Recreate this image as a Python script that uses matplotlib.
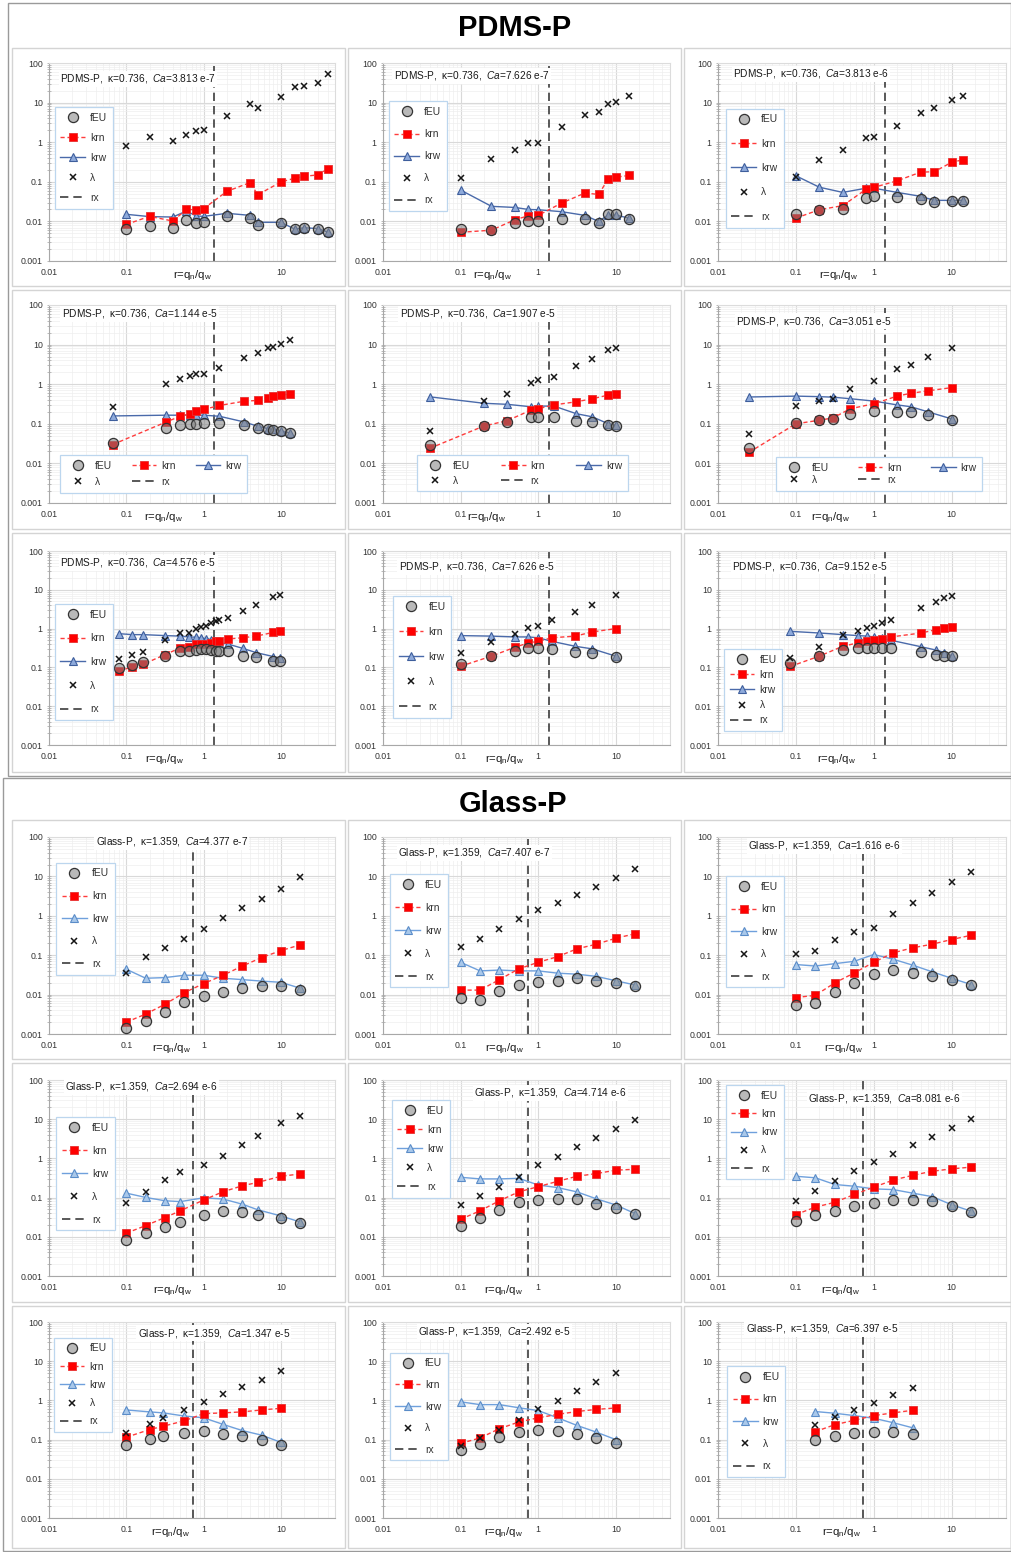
import matplotlib
matplotlib.use('Agg')
import matplotlib.pyplot as plt
from matplotlib.patches import Rectangle
from matplotlib.ticker import FixedLocator, FixedFormatter, LogLocator, NullFormatter
import numpy as np

plt.rcParams['font.family'] = ['Liberation Sans', 'DejaVu Sans']
plt.rcParams['mathtext.fontset'] = 'custom'
plt.rcParams['mathtext.rm'] = 'Liberation Sans'
plt.rcParams['mathtext.it'] = 'Liberation Sans:italic'
plt.rcParams['mathtext.bf'] = 'Liberation Sans:bold'

# ---------------- data ----------------
x_ticks = [0.01, 0.1, 1, 10]
x_tick_labels = ['0.01', '0.1', '1', '10']
y_ticks = [0.001, 0.01, 0.1, 1, 10, 100]
y_tick_labels = ['0.001', '0.01', '0.1', '1', '10', '100']

pdms_kappa = '0.736'
glass_kappa = '1.359'
pdms_rx = 1.38
glass_rx = 0.735
pdms_ca = ['3.813 e-7', '7.626 e-7', '3.813 e-6', '1.144 e-5', '1.907 e-5',
           '3.051 e-5', '4.576 e-5', '7.626 e-5', '9.152 e-5']
glass_ca = ['4.377 e-7', '7.407 e-7', '1.616 e-6', '2.694 e-6', '4.714 e-6',
            '8.081 e-6', '1.347 e-5', '2.492 e-5', '6.397 e-5']

# PDMS-P panels
p01_r = [0.1, 0.2, 0.4, 0.6, 0.8, 1, 2, 4, 5, 10, 15, 20, 30, 40]
p01_feu = [0.0063, 0.0075, 0.0069, 0.0108, 0.0093, 0.0097, 0.014, 0.0124, 0.0081, 0.0093, 0.0064, 0.0069, 0.0066, 0.0053]
p01_krn = [0.0084, 0.0134, 0.0102, 0.0202, 0.0195, 0.021, 0.0575, 0.0955, 0.047, 0.099, 0.123, 0.138, 0.149, 0.211]
p01_krw = [0.0151, 0.0132, 0.0129, 0.0183, 0.0137, 0.0134, 0.016, 0.0142, 0.0095, 0.0095, 0.0064, 0.0069, 0.0066, 0.0054]
p01_lam = [0.78, 1.39, 1.1, 1.53, 1.9, 2.05, 4.6, 9.1, 7.2, 13.7, 25, 26.6, 30.5, 52]

p02_r = [0.1, 0.25, 0.5, 0.75, 1, 2, 4, 6, 8, 10, 15]
p02_feu = [0.0063, 0.006, 0.0091, 0.0101, 0.0101, 0.0115, 0.0118, 0.0091, 0.0155, 0.0155, 0.0118]
p02_krn = [0.0053, 0.006, 0.011, 0.0139, 0.0142, 0.029, 0.052, 0.048, 0.117, 0.131, 0.145]
p02_krw = [0.062, 0.024, 0.0225, 0.02, 0.0197, 0.0176, 0.0142, 0.0100, 0.0145, 0.0145, 0.012]
p02_lam = [0.128, 0.37, 0.64, 0.94, 0.98, 2.4, 4.8, 5.7, 9.0, 10.2, 14.7]

p03_r = [0.1, 0.2, 0.4, 0.8, 1, 2, 4, 6, 10, 14]
p03_feu = [0.0153, 0.0197, 0.0205, 0.04, 0.043, 0.041, 0.037, 0.031, 0.033, 0.033]
p03_krn = [0.0121, 0.0197, 0.025, 0.065, 0.072, 0.106, 0.175, 0.18, 0.31, 0.36]
p03_krw = [0.142, 0.073, 0.054, 0.069, 0.069, 0.054, 0.043, 0.034, 0.034, 0.034]
p03_lam = [0.136, 0.36, 0.64, 1.26, 1.39, 2.63, 5.6, 7.2, 11.7, 14.7]

p04_r = [0.067, 0.33, 0.5, 0.67, 0.8, 1, 1.6, 3.3, 5, 6.7, 8, 10, 13]
p04_feu = [0.033, 0.08, 0.092, 0.097, 0.1, 0.107, 0.107, 0.092, 0.077, 0.072, 0.069, 0.065, 0.057]
p04_krn = [0.03, 0.112, 0.155, 0.18, 0.21, 0.23, 0.29, 0.37, 0.39, 0.46, 0.51, 0.53, 0.56]
p04_krw = [0.158, 0.165, 0.165, 0.165, 0.165, 0.165, 0.155, 0.112, 0.087, 0.076, 0.073, 0.065, 0.059]
p04_lam = [0.27, 1.02, 1.34, 1.59, 1.79, 1.86, 2.64, 4.7, 6.3, 8.0, 8.8, 10.1, 13.0]

p05_r = [0.04, 0.2, 0.4, 0.8, 1, 1.6, 3.1, 5, 8, 10]
p05_feu = [0.03, 0.088, 0.11, 0.15, 0.15, 0.15, 0.12, 0.11, 0.095, 0.09]
p05_krn = [0.024, 0.088, 0.12, 0.22, 0.24, 0.3, 0.36, 0.43, 0.53, 0.57]
p05_krw = [0.48, 0.33, 0.31, 0.27, 0.28, 0.28, 0.18, 0.15, 0.1, 0.093]
p05_lam = [0.067, 0.37, 0.55, 1.1, 1.25, 1.5, 2.9, 4.3, 7.2, 8.1]

p06_r = [0.025, 0.1, 0.2, 0.3, 0.5, 1, 2, 3, 5, 10]
p06_feu = [0.024, 0.105, 0.123, 0.136, 0.178, 0.21, 0.2, 0.2, 0.168, 0.128]
p06_krn = [0.019, 0.1, 0.123, 0.141, 0.24, 0.32, 0.5, 0.59, 0.68, 0.82]
p06_krw = [0.475, 0.5, 0.485, 0.47, 0.43, 0.375, 0.3, 0.27, 0.2, 0.133]
p06_lam = [0.055, 0.28, 0.375, 0.43, 0.75, 1.22, 2.4, 3.1, 4.8, 8.3]

p07_r = [0.08, 0.12, 0.164, 0.32, 0.5, 0.64, 0.8, 0.93, 1.08, 1.25, 1.45, 1.6, 2.06, 3.2, 4.8, 8, 9.6]
p07_feu = [0.098, 0.115, 0.137, 0.2, 0.26, 0.26, 0.28, 0.29, 0.29, 0.28, 0.27, 0.26, 0.26, 0.2, 0.18, 0.15, 0.143]
p07_krn = [0.08, 0.104, 0.12, 0.215, 0.32, 0.34, 0.39, 0.39, 0.39, 0.43, 0.47, 0.49, 0.54, 0.58, 0.64, 0.8, 0.85]
p07_krw = [0.74, 0.7, 0.7, 0.66, 0.64, 0.61, 0.6, 0.58, 0.55, 0.52, 0.45, 0.43, 0.4, 0.31, 0.24, 0.19, 0.17]
p07_lam = [0.16, 0.215, 0.25, 0.52, 0.77, 0.77, 0.98, 1.1, 1.2, 1.4, 1.6, 1.63, 1.88, 2.9, 4.1, 6.4, 7.4]

p08_r = [0.1, 0.25, 0.5, 0.75, 1, 1.5, 3, 5, 10]
p08_feu = [0.125, 0.195, 0.26, 0.31, 0.32, 0.3, 0.25, 0.23, 0.18]
p08_krn = [0.107, 0.195, 0.33, 0.43, 0.47, 0.58, 0.64, 0.82, 1.0]
p08_krw = [0.66, 0.64, 0.61, 0.61, 0.58, 0.47, 0.35, 0.3, 0.195]
p08_lam = [0.24, 0.45, 0.74, 1.04, 1.15, 1.63, 2.7, 3.95, 7.4]

p09_r = [0.085, 0.2, 0.4, 0.63, 0.82, 1, 1.27, 1.67, 4.07, 6.3, 8.1, 10]
p09_feu = [0.127, 0.195, 0.28, 0.31, 0.32, 0.32, 0.32, 0.32, 0.25, 0.215, 0.195, 0.195]
p09_krn = [0.106, 0.195, 0.35, 0.43, 0.47, 0.52, 0.55, 0.61, 0.77, 0.94, 1.04, 1.1]
p09_krw = [0.85, 0.77, 0.7, 0.66, 0.64, 0.61, 0.56, 0.5, 0.34, 0.28, 0.24, 0.2]
p09_lam = [0.177, 0.33, 0.7, 0.85, 1.04, 1.15, 1.4, 1.7, 3.4, 4.8, 6.1, 7.1]

# Glass-P panels
p10_r = [0.1, 0.178, 0.316, 0.562, 1, 1.78, 3.16, 5.62, 10, 17.8]
p10_feu = [0.0014, 0.0021, 0.0037, 0.0066, 0.0094, 0.0118, 0.015, 0.0168, 0.0168, 0.013]
p10_krn = [0.002, 0.0032, 0.0057, 0.0112, 0.019, 0.031, 0.053, 0.087, 0.131, 0.183]
p10_krw = [0.044, 0.026, 0.027, 0.031, 0.031, 0.026, 0.024, 0.022, 0.0205, 0.0145]
p10_lam = [0.035, 0.09, 0.156, 0.254, 0.46, 0.87, 1.57, 2.7, 4.9, 9.6]

p11_r = [0.1, 0.178, 0.316, 0.562, 1, 1.78, 3.16, 5.62, 10, 17.8]
p11_feu = [0.0083, 0.0073, 0.0125, 0.0175, 0.021, 0.022, 0.026, 0.022, 0.02, 0.0168]
p11_krn = [0.013, 0.013, 0.024, 0.045, 0.066, 0.092, 0.145, 0.19, 0.27, 0.35]
p11_krw = [0.066, 0.04, 0.042, 0.04, 0.04, 0.035, 0.033, 0.029, 0.0225, 0.0175]
p11_lam = [0.16, 0.26, 0.47, 0.84, 1.37, 2.1, 3.4, 5.4, 9.1, 15.4]

p12_r = [0.1, 0.178, 0.316, 0.562, 1, 1.78, 3.16, 5.62, 10, 17.8]
p12_feu = [0.0056, 0.0063, 0.0117, 0.0198, 0.034, 0.042, 0.036, 0.03, 0.023, 0.018]
p12_krn = [0.0084, 0.0096, 0.0198, 0.0355, 0.066, 0.115, 0.154, 0.19, 0.25, 0.32]
p12_krw = [0.058, 0.053, 0.061, 0.07, 0.104, 0.079, 0.056, 0.038, 0.026, 0.018]
p12_lam = [0.11, 0.13, 0.24, 0.38, 0.5, 1.08, 2.06, 3.9, 7.3, 13]

p13_r = [0.1, 0.178, 0.316, 0.5, 1, 1.78, 3.16, 5, 10, 17.6]
p13_feu = [0.0083, 0.0124, 0.018, 0.0233, 0.037, 0.046, 0.044, 0.037, 0.031, 0.022]
p13_krn = [0.0124, 0.0193, 0.031, 0.046, 0.087, 0.141, 0.2, 0.244, 0.35, 0.4]
p13_krw = [0.13, 0.101, 0.083, 0.079, 0.099, 0.092, 0.068, 0.049, 0.034, 0.024]
p13_lam = [0.071, 0.141, 0.28, 0.44, 0.69, 1.12, 2.23, 3.8, 7.8, 11.8]

p14_r = [0.1, 0.178, 0.316, 0.562, 1, 1.78, 3.16, 5.62, 10, 17.8]
p14_feu = [0.019, 0.03, 0.049, 0.075, 0.087, 0.09, 0.09, 0.07, 0.055, 0.039]
p14_krn = [0.028, 0.046, 0.083, 0.14, 0.19, 0.26, 0.35, 0.41, 0.5, 0.53]
p14_krw = [0.33, 0.3, 0.3, 0.31, 0.21, 0.18, 0.14, 0.093, 0.065, 0.039]
p14_lam = [0.066, 0.11, 0.19, 0.34, 0.68, 1.1, 1.9, 3.4, 5.6, 9.5]

p15_r = [0.1, 0.178, 0.316, 0.562, 1, 1.78, 3.16, 5.62, 10, 17.8]
p15_feu = [0.025, 0.037, 0.046, 0.06, 0.073, 0.085, 0.089, 0.081, 0.062, 0.042]
p15_krn = [0.037, 0.057, 0.076, 0.12, 0.184, 0.28, 0.37, 0.47, 0.54, 0.6]
p15_krw = [0.35, 0.32, 0.216, 0.195, 0.167, 0.16, 0.13, 0.106, 0.066, 0.045]
p15_lam = [0.081, 0.145, 0.26, 0.47, 0.82, 1.27, 2.2, 3.5, 5.9, 10]

p16_r = [0.1, 0.2, 0.3, 0.56, 1, 1.78, 3.16, 5.62, 10]
p16_feu = [0.071, 0.105, 0.123, 0.15, 0.17, 0.138, 0.12, 0.1, 0.071]
p16_krn = [0.115, 0.18, 0.22, 0.3, 0.46, 0.48, 0.51, 0.57, 0.63]
p16_krw = [0.57, 0.51, 0.48, 0.4, 0.36, 0.245, 0.17, 0.13, 0.085]
p16_lam = [0.15, 0.245, 0.36, 0.57, 0.9, 1.42, 2.2, 3.4, 5.6]

p17_r = [0.1, 0.178, 0.316, 0.56, 1, 1.78, 3.16, 5.62, 10]
p17_feu = [0.055, 0.077, 0.115, 0.155, 0.175, 0.17, 0.14, 0.11, 0.083]
p17_krn = [0.08, 0.11, 0.19, 0.28, 0.36, 0.44, 0.52, 0.59, 0.64]
p17_krw = [0.92, 0.78, 0.78, 0.65, 0.55, 0.36, 0.23, 0.155, 0.1]
p17_lam = [0.068, 0.11, 0.18, 0.31, 0.6, 0.94, 1.7, 2.95, 5.0]

p18_r = [0.178, 0.316, 0.56, 1, 1.78, 3.16]
p18_feu = [0.095, 0.123, 0.146, 0.16, 0.155, 0.135]
p18_krn = [0.16, 0.24, 0.31, 0.41, 0.48, 0.56]
p18_krw = [0.52, 0.47, 0.41, 0.35, 0.27, 0.2]
p18_lam = [0.23, 0.375, 0.56, 0.87, 1.34, 2.1]

series = [
    (p01_r, p01_feu, p01_krn, p01_krw, p01_lam), (p02_r, p02_feu, p02_krn, p02_krw, p02_lam),
    (p03_r, p03_feu, p03_krn, p03_krw, p03_lam), (p04_r, p04_feu, p04_krn, p04_krw, p04_lam),
    (p05_r, p05_feu, p05_krn, p05_krw, p05_lam), (p06_r, p06_feu, p06_krn, p06_krw, p06_lam),
    (p07_r, p07_feu, p07_krn, p07_krw, p07_lam), (p08_r, p08_feu, p08_krn, p08_krw, p08_lam),
    (p09_r, p09_feu, p09_krn, p09_krw, p09_lam), (p10_r, p10_feu, p10_krn, p10_krw, p10_lam),
    (p11_r, p11_feu, p11_krn, p11_krw, p11_lam), (p12_r, p12_feu, p12_krn, p12_krw, p12_lam),
    (p13_r, p13_feu, p13_krn, p13_krw, p13_lam), (p14_r, p14_feu, p14_krn, p14_krw, p14_lam),
    (p15_r, p15_feu, p15_krn, p15_krw, p15_lam), (p16_r, p16_feu, p16_krn, p16_krw, p16_lam),
    (p17_r, p17_feu, p17_krn, p17_krw, p17_lam), (p18_r, p18_feu, p18_krn, p18_krw, p18_lam),
]

# ---------------- layout (pixels) ----------------
W, H = 1012, 1552
col_x = [(49, 335), (383, 670), (718, 1006)]
row_y = [(63, 261), (305, 503), (551, 745), (837, 1034), (1080, 1276), (1322, 1518)]
panel_cols = [(12, 345), (348, 681), (684, 1011)]
panel_rows = [(48, 286), (290, 529), (533, 772), (820, 1059), (1063, 1302), (1306, 1548)]

# title position (axes fraction, left x, center y)
title_pos = [(0.04, 0.92), (0.038, 0.936), (0.053, 0.946),
             (0.045, 0.955), (0.058, 0.955), (0.064, 0.918),
             (0.04, 0.94), (0.055, 0.918), (0.05, 0.92),
             (0.164, 0.975), (0.053, 0.92), (0.105, 0.955),
             (0.056, 0.966), (0.317, 0.934), (0.314, 0.906),
             (0.31, 0.942), (0.122, 0.95), (0.096, 0.966)]
# x-label center position (axes fraction)
xlab_pos = [0.50, 0.38, 0.42, 0.40, 0.36, 0.39, 0.405, 0.425, 0.41,
            0.43, 0.425, 0.437, 0.432, 0.42, 0.424, 0.426, 0.42, 0.43]
# legend: (ncol, x0, ytop, height fraction, columnspacing)
legend_spec = [(1, 0.02, 0.776, 0.557, 0), (1, 0.02, 0.806, 0.599, 0), (1, 0.027, 0.77, 0.647, 0),
               (3, 0.037, 0.241, 0.207, 1.9), (3, 0.12, 0.243, 0.203, 3.0), (3, 0.203, 0.231, 0.175, 2.8),
               (1, 0.02, 0.726, 0.644, 0), (1, 0.035, 0.768, 0.674, 0), (1, 0.021, 0.494, 0.468, 0),
               (1, 0.026, 0.869, 0.614, 0), (1, 0.023, 0.81, 0.62, 0), (1, 0.027, 0.802, 0.612, 0),
               (1, 0.026, 0.81, 0.623, 0), (1, 0.03, 0.898, 0.544, 0), (1, 0.027, 0.974, 0.527, 0),
               (1, 0.018, 0.92, 0.528, 0), (1, 0.023, 0.843, 0.596, 0), (1, 0.032, 0.773, 0.609, 0)]

fig = plt.figure(figsize=(W / 100, H / 100), dpi=100)
fig.patch.set_facecolor('white')

# section frames and panel frames
for (x0, y0, x1, y1) in [(8, 3, 1011, 776), (3, 778, 1011, 1551)]:
    fig.add_artist(Rectangle((x0 / W, 1 - y1 / H), (x1 - x0) / W, (y1 - y0) / H,
                             transform=fig.transFigure, fill=False, ec='#9a9a9a', lw=1.0))
for (py0, py1) in panel_rows:
    for (px0, px1) in panel_cols:
        fig.add_artist(Rectangle((px0 / W, 1 - py1 / H), (px1 - px0) / W, (py1 - py0) / H,
                                 transform=fig.transFigure, fill=False, ec='#d4d4d4', lw=1.0))

fig.text(515 / W, 1 - 28 / H, 'PDMS-P', ha='center', va='center', fontsize=21, fontweight='bold')
fig.text(513 / W, 1 - 804 / H, 'Glass-P', ha='center', va='center', fontsize=21, fontweight='bold')

LEG_FS = 7.4
fs_px = LEG_FS * 100 / 72.0

for i, (r, feu, krn, krw, lam) in enumerate(series):
    row, col = divmod(i, 3)
    x0, x1 = col_x[col]
    y0, y1 = row_y[row]
    ax = fig.add_axes([x0 / W, 1 - y1 / H, (x1 - x0) / W, (y1 - y0) / H])
    glass = i >= 9
    mat = 'Glass-P' if glass else 'PDMS-P'
    kappa = glass_kappa if glass else pdms_kappa
    ca = glass_ca[i - 9] if glass else pdms_ca[i]
    rx = glass_rx if glass else pdms_rx

    ax.set_xscale('log')
    ax.set_yscale('log')
    ax.set_xlim(0.01, 50)
    ax.set_ylim(0.001, 100)
    xl = list(x_tick_labels)
    if i == 0:
        xl[2] = ''  # hidden under the axis label in the reference
    ax.xaxis.set_major_locator(FixedLocator(x_ticks))
    ax.xaxis.set_major_formatter(FixedFormatter(xl))
    ax.xaxis.set_minor_locator(LogLocator(base=10, subs=np.arange(2, 10), numticks=20))
    ax.xaxis.set_minor_formatter(NullFormatter())
    ax.yaxis.set_major_locator(FixedLocator(y_ticks))
    ax.yaxis.set_major_formatter(FixedFormatter(y_tick_labels))
    ax.yaxis.set_minor_locator(LogLocator(base=10, subs=np.arange(2, 10), numticks=20))
    ax.yaxis.set_minor_formatter(NullFormatter())
    ax.grid(which='major', color='#d9d9d9', lw=0.8)
    ax.grid(which='minor', color='#eeeeee', lw=0.5)
    ax.set_axisbelow(True)
    ax.tick_params(axis='x', which='both', length=0, labelsize=6.3, pad=5, labelcolor='#333333')
    ax.tick_params(axis='y', which='both', length=3, direction='inout', width=0.6,
                   color='#b0b0b0', labelsize=6.3, pad=3, labelcolor='#333333')
    for s in ['left', 'bottom']:
        ax.spines[s].set_color('#a8a8a8')
        ax.spines[s].set_linewidth(0.8)
    for s in ['top', 'right']:
        ax.spines[s].set_color('#dcdcdc')
        ax.spines[s].set_linewidth(0.8)

    if glass:
        kl, kf, ke = '#6fa0dc', '#a9c8ea', '#5a8cc8'
    else:
        kl, kf, ke = '#4a6aaa', '#8eaadb', '#3e5e9c'

    h_rx = ax.axvline(rx, color='#3c3c3c', lw=1.2, ls=(0, (5, 3)), zorder=2, label='rx')
    h_krw, = ax.plot(r, krw, '-', color=kl, lw=1.0, marker='^', ms=5.2, mfc=kf, mec=ke,
                     mew=0.8, zorder=3, label='krw')
    h_krn, = ax.plot(r, krn, color='#ff3c3c', lw=1.0, ls=(0, (3, 2)), marker='s', ms=5.8,
                     mfc='#ff0000', mec='#e83030', mew=0.6, zorder=4, label='krn')
    h_feu, = ax.plot(r, feu, 'o', ms=7.3, mfc=(0.5, 0.5, 0.5, 0.55), mec='#333333',
                     mew=0.9, zorder=5, label='fEU')
    h_lam, = ax.plot(r, lam, 'x', ms=4.2, mew=1.1, color='#151515', zorder=6, label='λ')

    tx, ty = title_pos[i]
    ax.text(tx, ty, mat + ',  κ=' + kappa + ',  $\\mathit{Ca}$=' + ca, transform=ax.transAxes,
            ha='left', va='center', fontsize=7.3, color='#1a1a1a', zorder=8,
            bbox=dict(fc='white', ec='none', pad=1.0))

    ax.text(xlab_pos[i], -0.072, r'r=q$_\mathregular{n}$/q$_\mathregular{w}$',
            transform=ax.transAxes, ha='center', va='center', fontsize=8.2, color='#1a1a1a')

    ncol, lx, ly, lh, cs = legend_spec[i]
    ax_h_px = (y1 - y0)
    if ncol == 1:
        handles = [h_feu, h_krn, h_krw, h_lam, h_rx]
        nrows = 5
    else:
        handles = [h_feu, h_lam, h_krn, h_rx, h_krw]
        nrows = 2
    bp = 0.55
    ls = (lh * ax_h_px / fs_px - 2 * bp - nrows * 1.15) / max(nrows - 1, 1)
    ls = max(ls, 0.2)
    leg = ax.legend(handles=handles, labels=[h.get_label() for h in handles], ncol=ncol,
                    loc='upper left', bbox_to_anchor=(lx, ly), borderaxespad=0,
                    fontsize=LEG_FS, labelspacing=ls, handlelength=2.4, handletextpad=0.5,
                    borderpad=bp, columnspacing=cs if cs else 2.0, fancybox=False,
                    framealpha=1, edgecolor='#bcd6ee', facecolor='white')
    leg.get_frame().set_linewidth(0.9)
    leg.set_zorder(9)
    for t in leg.get_texts():
        t.set_color('#333333')

fig.savefig('out.png', dpi=100, facecolor='white')
